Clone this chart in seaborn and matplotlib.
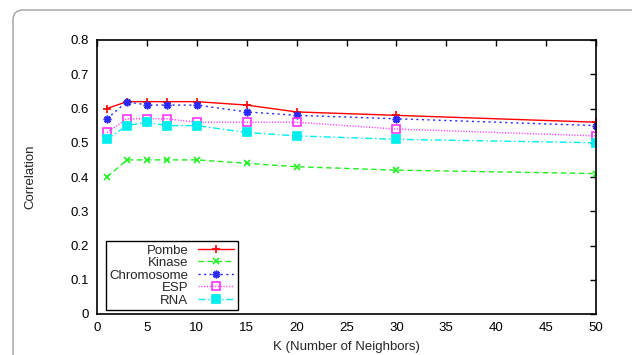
import seaborn as sns
import matplotlib.pyplot as plt
from matplotlib.patches import FancyBboxPatch
from matplotlib.transforms import IdentityTransform
from matplotlib.ticker import FormatStrFormatter
import pandas as pd

k_values = [1, 3, 5, 7, 10, 15, 20, 30, 50]
pombe = [0.60, 0.62, 0.62, 0.62, 0.62, 0.61, 0.59, 0.58, 0.56]
kinase = [0.40, 0.45, 0.45, 0.45, 0.45, 0.44, 0.43, 0.42, 0.41]
chromosome = [0.57, 0.62, 0.61, 0.61, 0.61, 0.59, 0.58, 0.57, 0.55]
esp = [0.53, 0.57, 0.57, 0.57, 0.56, 0.56, 0.56, 0.54, 0.52]
rna = [0.51, 0.55, 0.56, 0.55, 0.55, 0.53, 0.52, 0.51, 0.50]

df = pd.DataFrame({'K': k_values, 'Pombe': pombe, 'Kinase': kinase,
                   'Chromosome': chromosome, 'ESP': esp, 'RNA': rna})

sns.set_style('white')
plt.rcParams['font.family'] = ['Liberation Sans', 'DejaVu Sans']
plt.rcParams['font.size'] = 9.5

fig = plt.figure(figsize=(6.32, 3.55), dpi=100)
ax = fig.add_axes([97 / 632, 1 - 314 / 355, 499 / 632, 274 / 355])

# gnuplot-like line styles
styles = {
    'Pombe':      dict(color='#ff0000', linestyle='-', marker='+', ms=6, mfc='none'),
    'Kinase':     dict(color='#22ee22', linestyle=(0, (4, 2.5)), marker='x', ms=5, mfc='none'),
    'Chromosome': dict(color='#2a2aff', linestyle=(0, (1.5, 2.5)), marker=(8, 2, 0), ms=5.5, mfc='none'),
    'ESP':        dict(color='#ff33ff', linestyle=(0, (0.8, 1.2)), marker='s', ms=6, mfc='none'),
    'RNA':        dict(color='#00eeee', linestyle=(0, (5, 2, 1, 2)), marker='s', ms=6, mfc='#00eeee'),
}

for name, st in styles.items():
    sns.lineplot(data=df, x='K', y=name, ax=ax, label=name, lw=1,
                 markeredgecolor=st['color'], markeredgewidth=1.2, **st)

ax.set_xlim(0, 50)
ax.set_ylim(0, 0.8)
ax.set_xticks(range(0, 55, 5))
ax.set_yticks([i / 10 for i in range(9)])
ax.yaxis.set_major_formatter(FormatStrFormatter('%g'))
ax.tick_params(direction='in', top=True, right=True, length=4, width=1,
               labelsize=9.5, colors='black')
ax.tick_params(axis='y', pad=6)
ax.tick_params(axis='x', pad=6)
for sp in ax.spines.values():
    sp.set_color('black')
    sp.set_linewidth(1.2)

ax.set_xlabel('K (Number of Neighbors)', fontsize=9.5, va='top')
ax.set_ylabel('Correlation', fontsize=9.5)
ax.xaxis.set_label_coords(0.5, -0.097)
ax.yaxis.set_label_coords(-0.122, 0.5)

leg = ax.legend(loc='lower left', bbox_to_anchor=(0.018, 0.015), borderaxespad=0,
                markerfirst=False, fancybox=False, framealpha=1, edgecolor='black',
                fontsize=9.5, handlelength=2.8, handletextpad=0.7, labelspacing=0.02,
                borderpad=0.25)
leg.get_frame().set_linewidth(1.0)

# rounded panel border
fig.patches.append(FancyBboxPatch((13, -20), 640, 355 - 10 + 20,
                                  boxstyle='round,pad=0,rounding_size=10',
                                  transform=IdentityTransform(), fill=False,
                                  edgecolor='#a0a0a0', lw=1.0, figure=fig))

fig.savefig('out.png', dpi=100)
